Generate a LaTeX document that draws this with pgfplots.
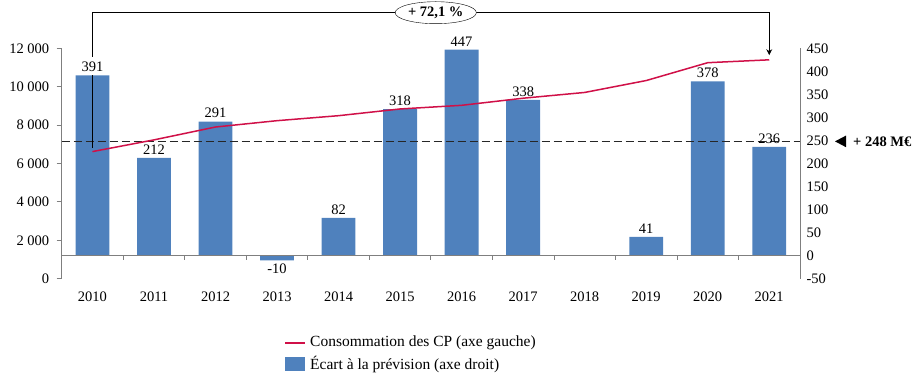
\documentclass[border=0pt]{standalone}
\usepackage{pgfplots}
\pgfplotsset{compat=1.18}
\usepackage{fontspec}
\setmainfont{Liberation Serif}
\usetikzlibrary{shapes.geometric,arrows.meta}
\definecolor{barblue}{HTML}{4F81BD}
\definecolor{cpred}{HTML}{D01048}
\definecolor{axgray}{HTML}{7F7F7F}
\newcommand{\fs}{\fontsize{14.5}{17}\selectfont}
\pgfkeys{/pgf/number format/.cd, assume math mode=true, 1000 sep={\ }}
\begin{document}
\begin{tikzpicture}
\useasboundingbox (0,0) rectangle (921pt,382pt);
% Right axis: bars
\begin{axis}[
  at={(61.7pt,103.3pt)}, anchor=south west,
  width=738.3pt, height=230.4pt, scale only axis,
  xmin=-0.5, xmax=11.5, ymin=-50, ymax=450,
  axis y line*=right, axis x line*=bottom,
  x axis line style={draw=none},
  y axis line style={draw=axgray, line width=0.8pt},
  xtick={0,...,11},
  xticklabels={2010,2011,2012,2013,2014,2015,2016,2017,2018,2019,2020,2021},
  xtick style={draw=none},
  ytick={-50,0,50,...,450},
  ytick style={draw=none},
  tick label style={font=\fs},
  xticklabel style={yshift=-9.5pt},
  yticklabel style={xshift=3pt},
  clip=false,
]
\addplot[ybar, bar width=0.55, fill=barblue, draw=none,
  nodes near coords, nodes near coords style={font=\fs, text=black}]
  coordinates {(0,391) (1,212) (2,291) (3,-10) (4,82) (5,318) (6,447) (7,338) (9,41) (10,378) (11,236)};
\draw[axgray, line width=0.8pt] (axis cs:-0.5,0) -- (axis cs:11.5,0);
\pgfplotsinvokeforeach{0,...,10}{\draw[axgray, line width=0.8pt] (axis cs:#1.5,0) -- ([yshift=-4pt]axis cs:#1.5,0);}
\draw[black!85, line width=0.9pt, dash pattern=on 8pt off 4pt] (axis cs:-0.5,248) -- (axis cs:11.5,248);
\fill[black] ([xshift=35pt]axis cs:11.5,248) -- ([xshift=46pt,yshift=5.8pt]axis cs:11.5,248) -- ([xshift=46pt,yshift=-5.8pt]axis cs:11.5,248) -- cycle;
\node[anchor=west, font=\fs\bfseries, inner sep=0] at ([xshift=53pt]axis cs:11.5,248) {+ 248 M€};
\end{axis}
% Left axis: line
\begin{axis}[
  at={(61.7pt,103.3pt)}, anchor=south west,
  width=738.3pt, height=230.4pt, scale only axis,
  xmin=-0.5, xmax=11.5, ymin=0, ymax=12000,
  axis y line*=left, axis x line=none,
  y axis line style={draw=axgray, line width=0.8pt},
  ytick={0,2000,...,12000},
  scaled y ticks=false,
  ytick style={draw=axgray, line width=0.8pt},
  tick align=outside, major tick length=5pt,
  tick label style={font=\fs},
  yticklabel style={xshift=-4pt},
  clip=false,
]
\addplot[color=cpred, line width=1.5pt]
  coordinates {(0,6620) (1,7230) (2,7900) (3,8230) (4,8490) (5,8840) (6,9030) (7,9400) (8,9700) (9,10320) (10,11250) (11,11400)};
\draw[black, line width=0.8pt] (axis cs:0,6810) -- (axis cs:0,10609);
\draw[black, line width=0.8pt, -{Stealth[length=6pt,width=6pt]}] (axis cs:0,11547) -- (axis cs:0,13854) -- (axis cs:11,13854) -- (axis cs:11,11640);
\node[draw, ellipse, fill=white, inner sep=1pt, font=\fs\bfseries, minimum height=22pt, minimum width=77pt] at (axis cs:5.58,13854) {+ 72,1 \%};
\end{axis}
% Legend
\draw[cpred, line width=1.8pt] (285pt,39pt) -- (305pt,39pt);
\node[anchor=west, inner sep=0pt, font=\fontsize{15.5}{18}\selectfont] at (310pt,39pt) {Consommation des CP (axe gauche)};
\fill[barblue] (285pt,10.5pt) rectangle (305pt,24.5pt);
\node[anchor=west, inner sep=0pt, font=\fontsize{15.5}{18}\selectfont] at (310pt,17.7pt) {Écart à la prévision (axe droit)};
\end{tikzpicture}
\end{document}
